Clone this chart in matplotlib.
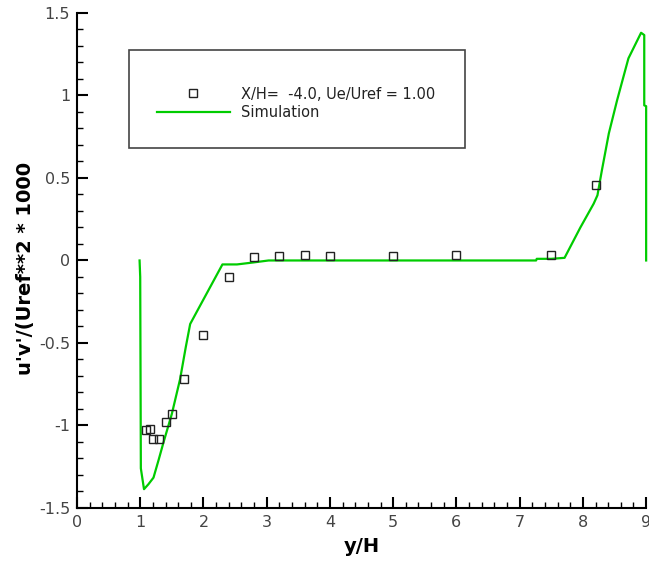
import matplotlib
matplotlib.use('Agg')
import matplotlib.pyplot as plt
from matplotlib.patches import Rectangle
from matplotlib.ticker import MultipleLocator

plt.rcParams['font.family'] = ['DejaVu Sans']
plt.rcParams['axes.unicode_minus'] = False

# 实验数据（方块）
exp_x = [1.09, 1.15, 1.20, 1.30, 1.40, 1.50, 1.70, 2.00, 2.40, 2.80, 3.20, 3.60, 4.00, 5.00, 6.00, 7.50, 8.20]
exp_y = [-1.03, -1.02, -1.08, -1.08, -0.98, -0.93, -0.72, -0.45, -0.10, 0.02, 0.025, 0.035, 0.025, 0.025, 0.035, 0.035, 0.46]

# 模拟曲线
sim_x = [0.99, 1.00, 1.01, 1.06, 1.13, 1.21, 1.29, 1.37, 1.50, 1.63, 1.72, 1.79, 1.89, 2.30, 2.53, 2.79, 3.03,
         7.26, 7.27, 7.50, 7.71, 7.96, 8.17, 8.23, 8.30, 8.41, 8.54, 8.72, 8.92, 8.97, 8.97, 9.00, 9.00]
sim_y = [0.00, -0.10, -1.26, -1.386, -1.356, -1.316, -1.21, -1.10, -0.93, -0.72, -0.526, -0.385, -0.314, -0.024,
         -0.024, -0.012, 0.0, 0.0, 0.01, 0.01, 0.016, 0.20, 0.344, 0.395, 0.546, 0.77, 0.97, 1.225, 1.38, 1.366,
         0.94, 0.935, 0.0]

exp_label = 'X/H=  -4.0, Ue/Uref = 1.00'
sim_label = 'Simulation'

fig = plt.figure(figsize=(6.49, 5.61), dpi=100)
ax = fig.add_axes([0.1186, 0.0945, 0.877, 0.8824])

s1, = ax.plot(exp_x, exp_y, 's', mfc='none', mec='#222222', mew=1.0, ms=6, zorder=3)
s2, = ax.plot(sim_x, sim_y, '-', color='#00cc00', lw=1.6, clip_on=False, zorder=2)

ax.set_xlim(0, 9)
ax.set_ylim(-1.5, 1.5)
ax.xaxis.set_major_locator(MultipleLocator(1))
ax.xaxis.set_minor_locator(MultipleLocator(0.2))
ax.yaxis.set_major_locator(MultipleLocator(0.5))
ax.yaxis.set_minor_locator(MultipleLocator(0.1))
ax.yaxis.set_major_formatter(plt.FuncFormatter(lambda v, p: '%g' % v))

for side in ['top', 'right']:
    ax.spines[side].set_visible(False)
for side in ['left', 'bottom']:
    ax.spines[side].set_linewidth(1.5)
    ax.spines[side].set_color('black')

ax.tick_params(which='major', direction='in', length=8, width=1.5, labelsize=11.5, labelcolor='#444444', pad=5)
ax.tick_params(which='minor', direction='in', length=4.5, width=1.0)

ax.set_xlabel('y/H', fontsize=14, fontweight='bold')
ax.set_ylabel("u'v'/(Uref**2 * 1000", fontsize=14, fontweight='bold')
ax.xaxis.set_label_coords(0.5, -0.058)
ax.yaxis.set_label_coords(-0.074, 0.484)

# 图例外框
fig.patches.append(Rectangle((0.1988, 0.7362), 0.5177, 0.1747, transform=fig.transFigure,
                             fill=False, edgecolor='#444444', lw=1.2))
leg = fig.legend([s1, s2], [exp_label, sim_label], loc='center left', bbox_to_anchor=(0.2419, 0.8157),
                 frameon=False, fontsize=10.5, handlelength=5.0, handletextpad=0.75, labelspacing=0.25,
                 borderpad=0, borderaxespad=0)
for t in leg.get_texts():
    t.set_color('#222222')

fig.savefig('out.png', dpi=100)
